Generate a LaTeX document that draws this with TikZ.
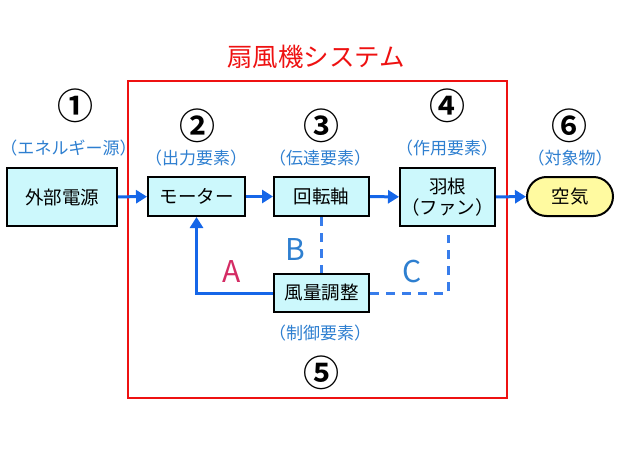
\documentclass[tikz,border=0pt]{standalone}
\usepackage{fontspec}
\setmainfont{Noto Sans CJK JP}[BoldFont={Noto Sans CJK JP Bold}]
\usepackage{tikz}
\usetikzlibrary{arrows.meta}
\usetikzlibrary{shapes}

\definecolor{boxcyan}{HTML}{CCF8FC}
\definecolor{boxyellow}{HTML}{FFFAA0}
\definecolor{flowblue}{HTML}{1566E8}
\definecolor{notecolor}{HTML}{2E7FD0}
\definecolor{framered}{HTML}{EE1111}
\definecolor{labelred}{HTML}{D42C64}

\begin{document}
\begin{tikzpicture}[x=1pt, y=-1pt, line width=1pt,
    element/.style={draw=black, line width=2pt, fill=boxcyan, align=center,
        font=\fontsize{18.5}{21}\selectfont, inner sep=0pt},
    target/.style={element, fill=boxyellow, rounded rectangle},
    note/.style={text=notecolor, inner sep=0pt, font=\fontsize{17}{20}\selectfont},
    number/.style={font=\fontsize{36}{38}\selectfont\bfseries},
    flow/.style={draw=flowblue, line width=3pt, -{Triangle[length=11pt, width=13pt]}},
    feedback/.style={draw=flowblue!85!white, line width=3pt, dash pattern=on 9pt off 7pt},
    letter/.style={font=\fontsize{30}{32}\selectfont}]
% page size
    \useasboundingbox (0, 0) rectangle (620, 465);

% system frame
    \draw[framered, line width=2pt] (128, 81) rectangle (507, 398);
    \node[text=framered, font=\fontsize{25.5}{28}\selectfont] (title) at (316, 57) {扇風機システム};

% elements
    \node[element, minimum width=110pt, minimum height=58pt] (source) at (62, 197) {外部電源};
    \node[element, minimum width=97pt, minimum height=39pt] (motor) at (196.5, 196.5) {モーター};
    \node[element, minimum width=95pt, minimum height=39pt] (shaft) at (321.5, 196.5) {回転軸};
    \node[element, minimum width=95pt, minimum height=58pt] (fan) at (447.5, 197) {羽根\\（ファン）};
    \node[target, minimum width=86pt, minimum height=39pt] (air) at (570, 196.5) {空気};
    \node[element, minimum width=95pt, minimum height=38pt] (control) at (321.5, 293) {風量調整};

% numbers
    \node[number] (n1) at (75, 106) {①};
    \node[number] (n2) at (197, 126) {②};
    \node[number] (n3) at (321, 126) {③};
    \node[number] (n4) at (447, 106) {④};
    \node[number] (n5) at (321, 373) {⑤};
    \node[number] (n6) at (569, 126) {⑥};

% notes
    \node[note] (note1) at (68.5, 148) {（エネルギー源）};
    \node[note] (note2) at (196, 158) {（出力要素）};
    \node[note] (note3) at (320, 158) {（伝達要素）};
    \node[note] (note4) at (447, 148) {（作用要素）};
    \node[note] (note5) at (320, 333) {（制御要素）};
    \node[note] (note6) at (570, 158) {（対象物）};

% main flow
    \draw[flow] (source) -- (motor);
    \draw[flow] (motor) -- (shaft);
    \draw[flow] (shaft) -- (fan);
    \draw[flow] (fan) -- (air);

% control lines
    \draw[flow] (control.west) -| (motor.south);
    \draw[feedback] (shaft.south) -- (control.north);
    \coordinate (cend) at (448, 235);
    \draw[feedback] (control.east) -| (cend);

% letters
    \node[letter, text=labelred] (la) at (232, 272) {A};
    \node[letter, text=notecolor] (lb) at (295, 250) {B};
    \node[letter, text=notecolor] (lc) at (412, 272) {C};
\end{tikzpicture}
\end{document}
